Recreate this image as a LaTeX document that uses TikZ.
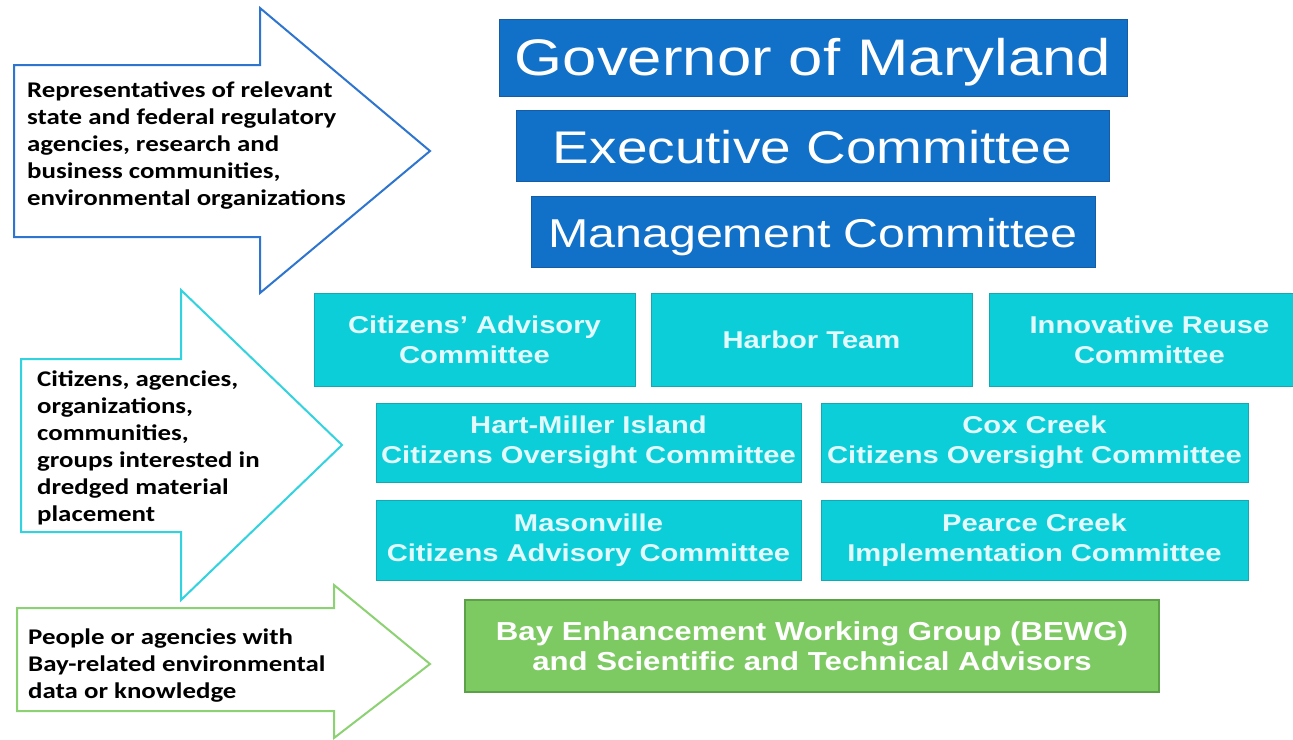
\documentclass[tikz,border=0pt]{standalone}
\usepackage{fontspec}
\newfontfamily\arfont[FakeStretch=1.2]{Liberation Sans}
\newfontfamily\cafont[FakeStretch=1.2]{Carlito}
\definecolor{bluefill}{RGB}{17,112,199}
\definecolor{blueedge}{RGB}{22,92,165}
\definecolor{cyanfill}{RGB}{12,206,216}
\definecolor{cyanedge}{RGB}{22,168,178}
\definecolor{cyantext}{RGB}{226,250,252}
\definecolor{greenfill}{RGB}{125,202,98}
\definecolor{greenedge}{RGB}{92,160,72}
\definecolor{arrowblue}{RGB}{46,117,208}
\definecolor{arrowcyan}{RGB}{50,210,222}
\definecolor{arrowgreen}{RGB}{140,210,115}
\newcommand{\firststrut}{\rule{0pt}{18pt}}
\tikzset{
  bigbox/.style={draw=blueedge, line width=1pt, fill=bluefill, text=white, inner sep=0pt, align=center, text depth=0pt, font=\arfont},
  cyanbox/.style={draw=cyanedge, line width=1pt, fill=cyanfill, text=cyantext, inner sep=0pt, align=center, font=\arfont\bfseries\fontsize{24.3}{30}\selectfont},
  greenbox/.style={draw=greenedge, line width=1.2pt, fill=greenfill, text=white, inner sep=0pt, align=center, font=\arfont\bfseries\fontsize{26}{30}\selectfont},
  fatarrow/.style={fill=white, line width=2pt, line join=miter},
  sidetext/.style={anchor=north west, inner sep=0pt, align=left, text=black, font=\cafont\bfseries\fontsize{22.4}{27}\selectfont}
}
\begin{document}
\begin{tikzpicture}[x=1pt,y=-1pt]
\useasboundingbox (0,0) rectangle (1293,739);
\clip (0,0) rectangle (1293,739);
\fill[white] (0,0) rectangle (1293,739);

% side arrows
\draw[fatarrow, draw=arrowblue] (14,65) -- (260,65) -- (260,8) -- (430,151) -- (260,293) -- (260,237) -- (14,237) -- cycle;
\draw[fatarrow, draw=arrowcyan] (21,359) -- (181,359) -- (181,290) -- (342,445) -- (181,600) -- (181,532) -- (21,532) -- cycle;
\draw[fatarrow, draw=arrowgreen] (17,608) -- (334,608) -- (334,585) -- (430,664) -- (334,738) -- (334,711) -- (17,711) -- cycle;

\node[sidetext] (t1) at (27,79) {\firststrut Representatives of relevant\\state and federal regulatory\\agencies, research and\\business communities,\\environmental organizations};
\node[sidetext] (t2) at (37,368) {\firststrut Citizens, agencies,\\organizations,\\communities,\\groups interested in\\dredged material\\placement};
\node[sidetext] (t3) at (28,626) {\firststrut People or agencies with\\Bay-related environmental\\data or knowledge};

% top boxes
\node[bigbox, minimum width=628pt, minimum height=77pt, text height=35pt, font=\arfont\fontsize{51.4}{60}\selectfont] (gov) at (813,57.5) {Governor of Maryland};
\node[bigbox, minimum width=593pt, minimum height=71pt, text height=35pt, font=\arfont\fontsize{45.8}{54}\selectfont] (exec) at (812.5,145.5) {Executive Committee};
\node[bigbox, minimum width=564pt, minimum height=71pt, text height=31pt, font=\arfont\fontsize{40.3}{48}\selectfont] (mgmt) at (813,231.5) {Management Committee};

% committees
\node[cyanbox, minimum width=321pt, minimum height=93pt] (cac) at (474.5,339.5) {Citizens’ Advisory\\Committee};
\node[cyanbox, minimum width=321pt, minimum height=93pt] (harbor) at (811.5,339.5) {Harbor Team};
\node[cyanbox, minimum width=321pt, minimum height=93pt] (irc) at (1149.5,339.5) {Innovative Reuse\\Committee};
\node[cyanbox, minimum width=425pt, minimum height=79pt] (hmi) at (588.5,442.5) {Hart-Miller Island\\Citizens Oversight Committee};
\node[cyanbox, minimum width=427pt, minimum height=79pt] (cox) at (1034.5,442.5) {Cox Creek\\Citizens Oversight Committee};
\node[cyanbox, minimum width=425pt, minimum height=80pt] (mas) at (588.5,540) {Masonville\\Citizens Advisory Committee};
\node[cyanbox, minimum width=427pt, minimum height=80pt] (pearce) at (1034.5,540) {Pearce Creek\\Implementation Committee};

% BEWG
\node[greenbox, minimum width=694pt, minimum height=92pt] (bewg) at (812,646) {Bay Enhancement Working Group (BEWG)\\and Scientific and Technical Advisors};
\end{tikzpicture}
\end{document}
